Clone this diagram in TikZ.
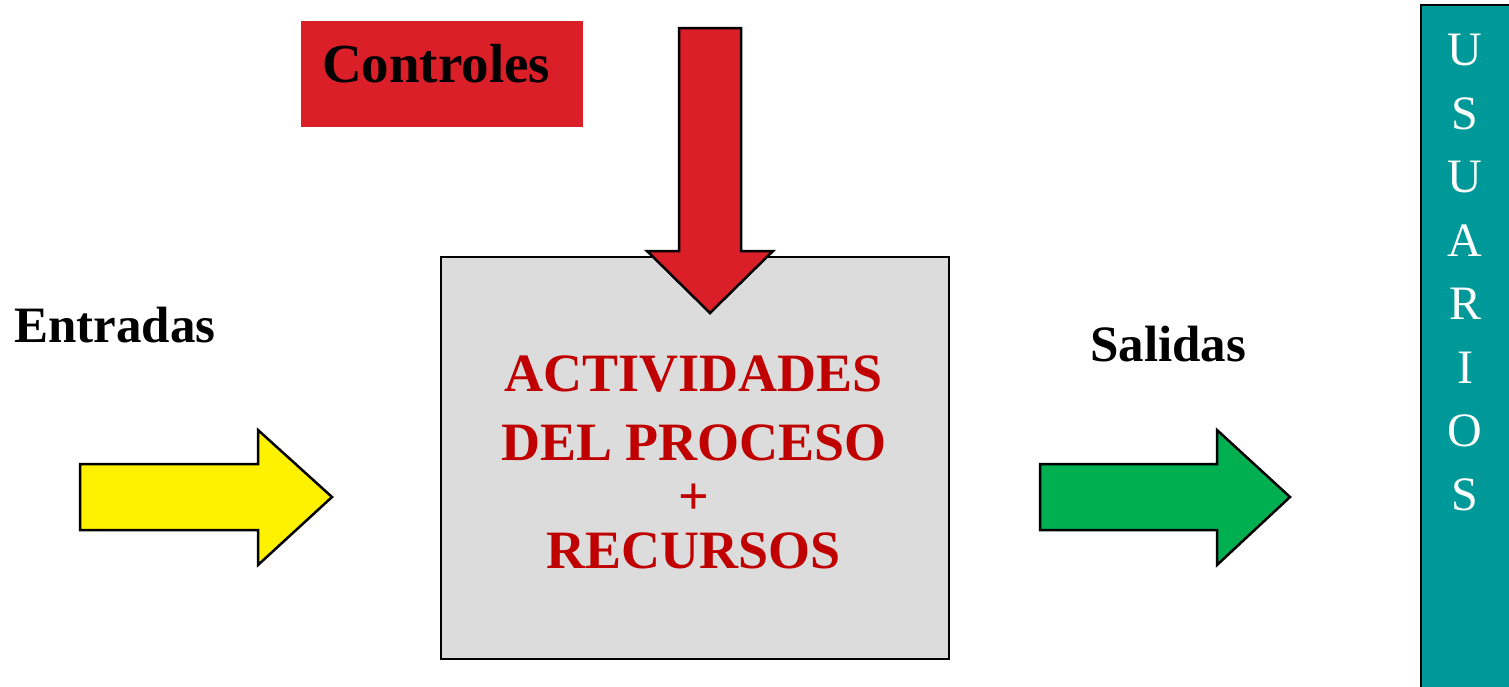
\documentclass[tikz,border=0pt]{standalone}
\usepackage{fontspec}
\setmainfont{Liberation Serif}
\definecolor{ctrlred}{HTML}{DA1F28}
\definecolor{procred}{HTML}{C00000}
\definecolor{procgray}{HTML}{DCDCDC}
\definecolor{usrteal}{HTML}{009999}
\definecolor{outgreen}{HTML}{00B050}
\tikzset{
  fatarrow/.style={draw=black,line width=2.5pt,line join=miter},
  label/.style={font=\fontsize{51}{55}\selectfont\bfseries,inner sep=0pt},
  proctext/.style={text=procred,font=\fontsize{54}{54}\selectfont\bfseries,inner sep=0pt,anchor=base}
}
\begin{document}
\begin{tikzpicture}[x=1pt,y=-1pt]
  \useasboundingbox (0,0) rectangle (1509,686);
  % proceso
  \node[draw=black,line width=2.5pt,fill=procgray,minimum width=508pt,minimum height=402pt,
        inner sep=0pt,name=proc] at (695,458){};
  \foreach \t/\y [count=\i] in {ACTIVIDADES/391,DEL PROCESO/460,+/514,RECURSOS/568}{
    \node[proctext,name=act\i] at (694,\y){\t};
  }
  % controles
  \node[fill=ctrlred,minimum width=282pt,minimum height=106pt,inner sep=0pt,name=ctrl] at (442,74){};
  \node[label,font=\fontsize{55}{55}\selectfont\bfseries,anchor=base west,name=ctrltxt] at (322,82){Controles};
  \draw[fatarrow,fill=ctrlred] (679,28) -- (741,28) -- (741,251) -- (773,251) -- (710,313)
       -- (647,251) -- (679,251) -- cycle;
  % entradas / salidas
  \node[label,anchor=base west,name=ent] at (14,342){Entradas};
  \node[label,anchor=base west,name=sal] at (1090,361){Salidas};
  \draw[fatarrow,fill=yellow] (80,464) -- (258,464) -- (258,430) -- (332,497) -- (258,565)
       -- (258,530) -- (80,530) -- cycle;
  \draw[fatarrow,fill=outgreen] (1040,464) -- (1217,464) -- (1217,430) -- (1290,497) -- (1217,565)
       -- (1217,530) -- (1040,530) -- cycle;
  % usuarios
  \draw[line width=2pt,fill=usrteal] (1421,700) -- (1421,5) -- (1515,5) -- (1515,700);
  \foreach \l [count=\i from 0] in {U,S,U,A,R,I,O,S}{
    \node[text=white,font=\fontsize{48}{48}\selectfont,inner sep=0pt,name=usr\i]
      at (1465,{50+63.5*\i}){\l};
  }
\end{tikzpicture}
\end{document}
